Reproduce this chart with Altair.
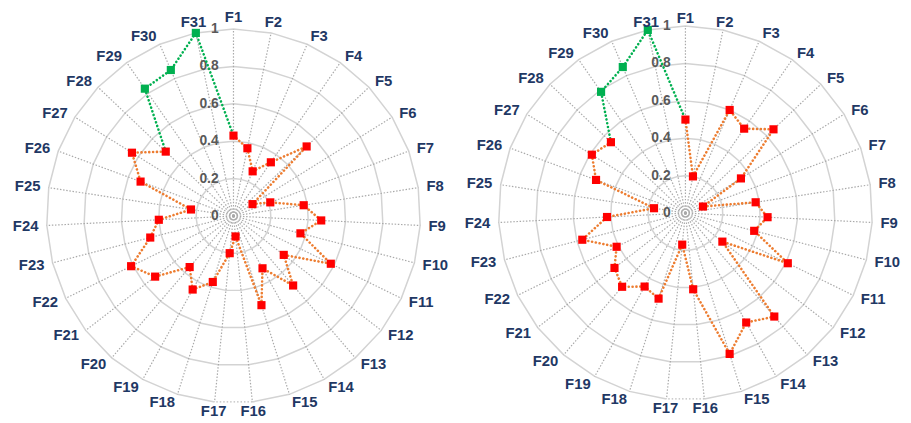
import altair as alt
import pandas as pd

# ---------------- data ----------------
categories = [f"F{i}" for i in range(1, 32)]
grid_levels = [0.2, 0.4, 0.6, 0.8, 1.0]
tick_values = [0, 0.2, 0.4, 0.6, 0.8, 1.0]
tick_labels = ["0", "0.2", "0.4", "0.6", "0.8", "1"]

left_values = [0.43, 0.37, 0.26, 0.35, 0.54, 0.12, 0.21, 0.38, 0.47, 0.37,
               0.58, 0.34, 0.49, 0.32, 0.50, 0.11, 0.20, 0.37, 0.45, 0.36,
               0.53, 0.61, 0.46, 0.40, 0.23, 0.53, 0.64, 0.50, 0.83, 0.85, 1.00]
right_values = [0.50, 0.20, 0.60, 0.55, 0.65, 0.35, 0.10, 0.38, 0.44, 0.38,
                0.61, 0.25, 0.73, 0.67, 0.79, 0.41, 0.17, 0.48, 0.45, 0.52,
                0.48, 0.41, 0.57, 0.42, 0.17, 0.51, 0.59, 0.55, 0.79, 0.85, 1.00]

red_count = 28                    # F1..F28 drawn red / orange
green_path = [27, 28, 29, 30, 0]  # F28 -> F29 -> F30 -> F31 -> F1

N = len(categories)
R_PX = 189.0
W, H = 905, 415
LEFT_CX, LEFT_CY = 228, 208
RIGHT_CX, RIGHT_CY = 685, 205
NAVY = "#1F3864"
FONT = "Liberation Sans"

THETA = f"2*PI*datum.idx/{N}"

xs = alt.Scale(domain=[-LEFT_CX / R_PX, (W - LEFT_CX) / R_PX], nice=False, zero=False)
ys = alt.Scale(domain=[-(H - LEFT_CY) / R_PX, LEFT_CY / R_PX], nice=False, zero=False)
X = alt.X("px:Q", scale=xs, axis=None)
Y = alt.Y("py:Q", scale=ys, axis=None)


def panel(values, ox, oy, top_r):
    def with_xy(chart):
        return chart.transform_calculate(
            px=f"{ox} + datum.r*sin({THETA})", py=f"{oy} + datum.r*cos({THETA})"
        )

    # grid rings (31-gons); outer ring misses the F16-F17 edge (drawn dotted)
    ring_rows = []
    for lev in grid_levels:
        if lev < 1.0:
            for k in range(N + 1):
                ring_rows.append({"ring": lev, "k": k, "idx": k % N, "r": lev})
        else:
            for k in range(N):
                ring_rows.append({"ring": lev, "k": k, "idx": (k + 16) % N, "r": lev})
    rings = with_xy(alt.Chart(pd.DataFrame(ring_rows))).mark_line(
        color="#D3D3D3", strokeWidth=1.5
    ).encode(x=X, y=Y, detail="ring:N", order="k:Q")

    seg = with_xy(alt.Chart(pd.DataFrame(
        [{"idx": 15, "r": 1.0, "k": 0}, {"idx": 16, "r": 1.0, "k": 1}]
    ))).mark_line(color="#BDBDBD", strokeWidth=1.25, strokeDash=[1.5, 2]).encode(
        x=X, y=Y, order="k:Q")

    spoke_rows = []
    for i in range(N):
        spoke_rows.append({"idx": i, "r": 0.0, "k": 0})
        spoke_rows.append({"idx": i, "r": 1.0, "k": 1})
    spokes = with_xy(alt.Chart(pd.DataFrame(spoke_rows))).mark_line(
        color="#A9A9A9", strokeWidth=1.2, strokeDash=[1.5, 1.7]
    ).encode(x=X, y=Y, detail="idx:N", order="k:Q")

    ticks_df = pd.DataFrame({"v": tick_values, "label": tick_labels})
    ticks = alt.Chart(ticks_df).transform_calculate(
        px=f"{ox}", py=f"{oy} + datum.v"
    ).mark_text(
        align="right", baseline="middle", dx=-15,
        font=FONT, fontSize=14, fontWeight="bold", color="#595959"
    ).encode(x=X, y=Y, text="label:N")

    df = pd.DataFrame({"idx": list(range(N)), "cat": categories, "r": values})
    red_df = df.iloc[:red_count].copy()
    red_df["k"] = range(len(red_df))
    green_df = df.iloc[green_path].copy()
    green_df["k"] = range(len(green_df))
    green_pts = df.iloc[red_count:].copy()

    orange_line = with_xy(alt.Chart(red_df)).mark_line(
        color="#ED7D31", strokeWidth=2.6, strokeDash=[0.1, 3.8], strokeCap="round"
    ).encode(x=X, y=Y, order="k:Q")
    green_line = with_xy(alt.Chart(green_df)).mark_line(
        color="#00B050", strokeWidth=2.6, strokeDash=[0.1, 3.8], strokeCap="round"
    ).encode(x=X, y=Y, order="k:Q")
    red_pts = with_xy(alt.Chart(red_df)).mark_point(
        shape="square", filled=True, size=68, color="#FF0000", opacity=1
    ).encode(x=X, y=Y)
    grn_pts = with_xy(alt.Chart(green_pts)).mark_point(
        shape="square", filled=True, size=68, color="#00B050", opacity=1
    ).encode(x=X, y=Y)

    lab_df = pd.DataFrame({"idx": list(range(N)), "cat": categories})
    S = f"sin({THETA})"
    C = f"cos({THETA})"

    def lab_layer(filt, rexpr, align):
        return alt.Chart(lab_df).transform_filter(filt).transform_calculate(
            r=rexpr
        ).transform_calculate(
            px=f"{ox} + datum.r*{S}", py=f"{oy} + datum.r*{C}"
        ).mark_text(
            align=align, baseline="middle", font=FONT, fontSize=15,
            fontWeight="bold", color=NAVY
        ).encode(x=X, y=Y, text="cat:N")

    lab_r = lab_layer(f"{S} > 0.25", "1.045", "left")
    lab_l = lab_layer(f"{S} < -0.25", "1.045", "right")
    lab_c = lab_layer(f"abs({S}) <= 0.25", f"{C} > 0 ? {top_r} : 1.05", "center")

    return [rings, seg, spokes, ticks, orange_line, green_line, red_pts, grn_pts,
            lab_r, lab_l, lab_c]


left_layers = panel(left_values, 0, 0, 1.062)
right_layers = panel(right_values, (RIGHT_CX - LEFT_CX) / R_PX,
                     (LEFT_CY - RIGHT_CY) / R_PX, 1.045)

chart = alt.layer(*left_layers, *right_layers).properties(
    width=W, height=H,
    autosize=alt.AutoSizeParams(type="none"), padding=0, background="white"
).configure_view(stroke=None)

chart.save("out.html", embed_options={"renderer": "svg", "actions": False})
